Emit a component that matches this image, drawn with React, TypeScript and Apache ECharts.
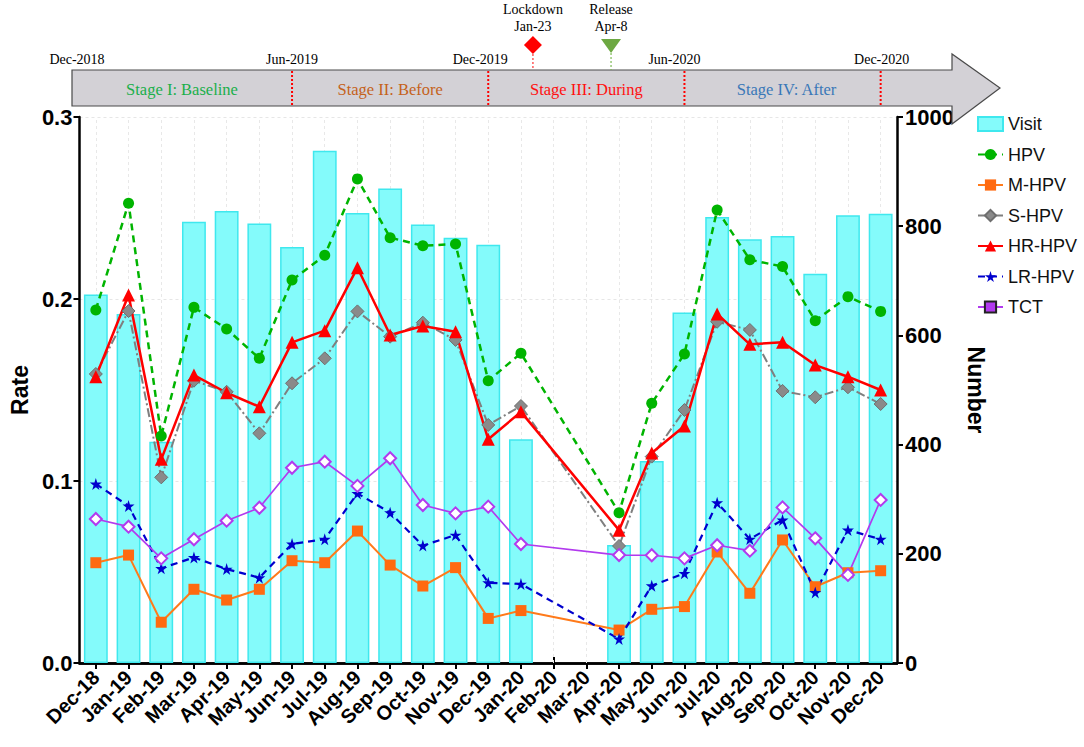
import React, { useEffect, useRef } from "react";
import * as echarts from "echarts";

const categories = ["Dec-18","Jan-19","Feb-19","Mar-19","Apr-19","May-19","Jun-19","Jul-19","Aug-19","Sep-19","Oct-19","Nov-19","Dec-19","Jan-20","Feb-20","Mar-20","Apr-20","May-20","Jun-20","Jul-20","Aug-20","Sep-20","Oct-20","Nov-20","Dec-20"];
const visits = [675, 639, 405, 808, 828, 805, 762, 938, 824, 869, 803, 779, 766, 410, null, null, 216, 370, 642, 817, 776, 782, 713, 820, 823];
const hpv = [0.194, 0.2526, 0.1247, 0.1954, 0.1835, 0.1674, 0.2104, 0.224, 0.266, 0.2337, 0.2293, 0.2302, 0.1551, 0.1702, null, null, 0.0826, 0.1427, 0.1698, 0.2489, 0.2216, 0.2178, 0.1881, 0.2013, 0.1932];
const mHpv = [0.0551, 0.0593, 0.0224, 0.0405, 0.0346, 0.0405, 0.0562, 0.0551, 0.0725, 0.0538, 0.0423, 0.0524, 0.0245, 0.0288, null, null, 0.0181, 0.0295, 0.031, 0.061, 0.0383, 0.0676, 0.0419, 0.0496, 0.0507];
const sHpv = [0.1588, 0.1934, 0.102, 0.1551, 0.149, 0.1262, 0.1537, 0.1674, 0.1932, 0.1793, 0.187, 0.1775, 0.1308, 0.1412, null, null, 0.0643, 0.1134, 0.139, 0.1875, 0.183, 0.1495, 0.146, 0.1515, 0.1423];
const hrHpv = [0.1573, 0.2022, 0.1119, 0.1582, 0.1485, 0.1408, 0.1762, 0.1826, 0.2172, 0.1802, 0.1852, 0.182, 0.1229, 0.138, null, null, 0.073, 0.1154, 0.1302, 0.1918, 0.1751, 0.1762, 0.1637, 0.1573, 0.15];
const lrHpv = [0.0984, 0.0863, 0.052, 0.058, 0.0516, 0.0469, 0.0654, 0.068, 0.0932, 0.0826, 0.0645, 0.0703, 0.0441, 0.0434, null, null, 0.0132, 0.0425, 0.0493, 0.0881, 0.0681, 0.0786, 0.0388, 0.0731, 0.068];
const tct = [0.0791, 0.0749, 0.0575, 0.068, 0.0782, 0.0853, 0.1073, 0.1106, 0.0973, 0.1125, 0.0868, 0.0822, 0.0859, 0.0654, null, null, 0.0593, 0.0592, 0.0575, 0.0647, 0.0617, 0.0855, 0.0685, 0.0484, 0.0896];

const rateTicks = [0, 0.1, 0.2, 0.3];
const numberTicks = [0, 200, 400, 600, 800, 1000];

const stageBoundaries = ["Dec-18", "Jun-19", "Dec-19", "Jun-20", "Dec-20"];
const boundaryLabels = ["Dec-2018", "Jun-2019", "Dec-2019", "Jun-2020", "Dec-2020"];
const stageNames = ["Stage I: Baseline", "Stage II: Before", "Stage III: During", "Stage IV: After"];
const stageColors = ["#1BAF4B", "#C5621B", "#FF1010", "#3A78B8"];

const STAR = "path://M50,0 L61,35 L98,35 L68,57 L79,91 L50,70 L21,91 L32,57 L2,35 L39,35 Z";
const AX = "Arial, 'Liberation Sans', Helvetica, sans-serif";
const SERIF = "'Times New Roman', 'Liberation Serif', serif";

export default function App() {
  const ref = useRef<HTMLDivElement>(null);
  useEffect(() => {
    document.body.style.margin = "0";
    const chart = echarts.init(ref.current!, null, { renderer: "svg" });
    const lineCommon = { yAxisIndex: 0, xAxisIndex: 0, connectNulls: true, z: 3 };
    const option: any = {
      animation: false,
      backgroundColor: "#ffffff",
      grid: { left: 76, right: 187, top: 117, bottom: 84 },
      legend: {
        orient: "vertical",
        left: 972,
        top: 110,
        itemWidth: 25,
        itemHeight: 14,
        itemGap: 12.5,
        textStyle: { fontSize: 18, fontFamily: AX, color: "#111" },
        data: [
          { name: "Visit", icon: "rect" },
          { name: "HPV" },
          { name: "M-HPV" },
          { name: "S-HPV" },
          { name: "HR-HPV" },
          { name: "LR-HPV" },
          { name: "TCT" },
        ],
      },
      xAxis: [
        {
          type: "category",
          data: categories,
          position: "bottom",
          axisLine: { show: true, lineStyle: { color: "#000", width: 2.5 } },
          axisTick: { show: true, alignWithLabel: true, length: 6, lineStyle: { color: "#000", width: 2 } },
          axisLabel: { interval: 0, rotate: 45, fontSize: 20, fontWeight: "bold", color: "#000", fontFamily: AX, margin: 11 },
          splitLine: { show: false },
        },
        {
          type: "category",
          data: categories,
          position: "top",
          axisLine: { show: true, lineStyle: { color: "#000", width: 2.5 } },
          axisTick: { show: true, alignWithLabel: true, length: 6, lineStyle: { color: "#000", width: 2 } },
          axisLabel: { show: false },
          splitLine: { show: false },
        },
      ],
      yAxis: [
        {
          type: "value",
          min: rateTicks[0],
          max: rateTicks[rateTicks.length - 1],
          interval: 0.1,
          position: "left",
          name: "Rate",
          nameLocation: "middle",
          nameGap: 45,
          nameTextStyle: { fontSize: 23, fontWeight: "bold", color: "#000", fontFamily: AX },
          axisLine: { show: true, lineStyle: { color: "#000", width: 2.5 } },
          axisTick: { show: true, length: 6, lineStyle: { color: "#000", width: 2 } },
          axisLabel: { fontSize: 22, fontWeight: "bold", color: "#000", fontFamily: AX, margin: 7, formatter: (v: number) => v.toFixed(1) },
          splitLine: { show: true, lineStyle: { color: "#e6e6e6", type: [3, 3], width: 1 } },
        },
        {
          type: "value",
          min: numberTicks[0],
          max: numberTicks[numberTicks.length - 1],
          interval: 200,
          position: "right",
          name: "Number",
          nameLocation: "middle",
          nameRotate: -90,
          nameGap: 61,
          nameTextStyle: { fontSize: 23, fontWeight: "bold", color: "#000", fontFamily: AX },
          axisLine: { show: true, lineStyle: { color: "#000", width: 2.5 } },
          axisTick: { show: true, length: 6, lineStyle: { color: "#000", width: 2 } },
          axisLabel: { fontSize: 22, fontWeight: "bold", color: "#000", fontFamily: AX, margin: 8, formatter: (v: number) => String(v) },
          splitLine: { show: false },
        },
      ],
      series: [
        {
          name: "Visit",
          type: "bar",
          yAxisIndex: 1,
          data: visits,
          barCategoryGap: "27%",
          z: 2,
          itemStyle: { color: "#84FBFB", borderColor: "#3FE8EE", borderWidth: 1.5 },
          markLine: {
            silent: true,
            symbol: "none",
            z: 1,
            label: { show: false },
            lineStyle: { color: "#e8e8e8", type: [3, 3], width: 1 },
            data: categories.map((c) => ({ xAxis: c })),
          },
        },
        {
          ...lineCommon,
          name: "HPV",
          type: "line",
          data: hpv,
          symbol: "circle",
          symbolSize: 11,
          itemStyle: { color: "#00B400" },
          lineStyle: { color: "#00B400", width: 2.5, type: [7, 5] },
        },
        {
          ...lineCommon,
          name: "M-HPV",
          type: "line",
          data: mHpv,
          symbol: "rect",
          symbolSize: 11,
          itemStyle: { color: "#FF6A10" },
          lineStyle: { color: "#FF7A1A", width: 2 },
        },
        {
          ...lineCommon,
          name: "S-HPV",
          type: "line",
          data: sHpv,
          symbol: "diamond",
          symbolSize: 13,
          itemStyle: { color: "#8a8a8a", borderColor: "#6e6e6e", borderWidth: 1 },
          lineStyle: { color: "#7f7f7f", width: 2, type: [9, 3, 2, 3] },
        },
        {
          ...lineCommon,
          name: "HR-HPV",
          type: "line",
          data: hrHpv,
          symbol: "triangle",
          symbolSize: 13,
          itemStyle: { color: "#FF0000" },
          lineStyle: { color: "#FF0000", width: 2.5 },
        },
        {
          ...lineCommon,
          name: "LR-HPV",
          type: "line",
          data: lrHpv,
          symbol: STAR,
          symbolSize: 12,
          itemStyle: { color: "#0000CD" },
          lineStyle: { color: "#0000CD", width: 2.2, type: [7, 5] },
        },
        {
          // legend appearance for TCT (purple line with black-bordered square), no data
          ...lineCommon,
          name: "TCT",
          type: "line",
          data: [],
          symbol: "rect",
          symbolSize: 12,
          itemStyle: { color: "#B23AEE", borderColor: "#222", borderWidth: 2 },
          lineStyle: { color: "#B23AEE", width: 1.7 },
        },
        {
          ...lineCommon,
          name: "TCT",
          type: "line",
          data: tct,
          symbol: "emptyDiamond",
          symbolSize: 12,
          itemStyle: { color: "#B23AEE", borderWidth: 1.5 },
          lineStyle: { color: "#B23AEE", width: 1.7 },
        },
      ],
    };
    chart.setOption(option);

    const px = (c: string) => chart.convertToPixel({ xAxisIndex: 0 }, c) as number;
    const bTop = 70, bBot = 106, left = 72, arrowBase = 952, arrowTip = 1000;
    const bMid = (bTop + bBot) / 2;
    const xs = stageBoundaries.map(px);
    const graphics: any[] = [];
    graphics.push({
      type: "polygon",
      z: 10,
      shape: { points: [[left, bTop], [arrowBase, bTop], [arrowBase, 54], [arrowTip, bMid], [arrowBase, 124], [arrowBase, bBot], [left, bBot]] },
      style: { fill: "#D3D1D6", stroke: "#4a4a4a", lineWidth: 1.2 },
    });
    for (let i = 1; i < xs.length; i++) {
      graphics.push({
        type: "line", z: 11,
        shape: { x1: xs[i], y1: bTop + 1, x2: xs[i], y2: bBot - 1 },
        style: { stroke: "#FF0000", lineWidth: 2, lineDash: [2, 2] },
      });
    }
    const labelOffsets = [5, 0, -8, -10, 1];
    boundaryLabels.forEach((t, i) => {
      const x = i === 0 ? left + labelOffsets[0] : xs[i] + labelOffsets[i];
      graphics.push({
        type: "text", z: 12, x, y: 59,
        style: { text: t, fill: "#000", font: `14px ${SERIF}`, align: "center", verticalAlign: "middle" },
      });
    });
    const stageEdges = [left, xs[1], xs[2], xs[3], xs[4]];
    stageNames.forEach((t, i) => {
      graphics.push({
        type: "text", z: 12, x: (stageEdges[i] + stageEdges[i + 1]) / 2 + (i === 3 ? 4 : 0), y: bMid + 1,
        style: { text: t, fill: stageColors[i], font: `16.5px ${SERIF}`, align: "center", verticalAlign: "middle" },
      });
    });
    const lockX = px("Jan-20") + 12;
    const relX = px("Apr-20") - 8;
    graphics.push({
      type: "polygon", z: 12,
      shape: { points: [[lockX, 36], [lockX + 9, 45], [lockX, 54], [lockX - 9, 45]] },
      style: { fill: "#FF0000" },
    });
    graphics.push({
      type: "line", z: 11,
      shape: { x1: lockX, y1: 54, x2: lockX, y2: bTop },
      style: { stroke: "#FF3030", lineWidth: 1.2, lineDash: [2, 2] },
    });
    graphics.push({
      type: "polygon", z: 12,
      shape: { points: [[relX - 10, 39], [relX + 10, 39], [relX, 53]] },
      style: { fill: "#6DA842" },
    });
    graphics.push({
      type: "line", z: 11,
      shape: { x1: relX, y1: 53, x2: relX, y2: bTop },
      style: { stroke: "#7DBA55", lineWidth: 1.2, lineDash: [2, 2] },
    });
    [["Lockdown", lockX, 9], ["Jan-23", lockX, 26], ["Release", relX, 9], ["Apr-8", relX, 26]].forEach(([t, x, y]) => {
      graphics.push({
        type: "text", z: 12, x, y,
        style: { text: t, fill: "#000", font: `14px ${SERIF}`, align: "center", verticalAlign: "middle" },
      });
    });
    chart.setOption({ graphic: graphics });

    return () => chart.dispose();
  }, []);
  return <div ref={ref} style={{ width: 1084, height: 747 }} />;
}
